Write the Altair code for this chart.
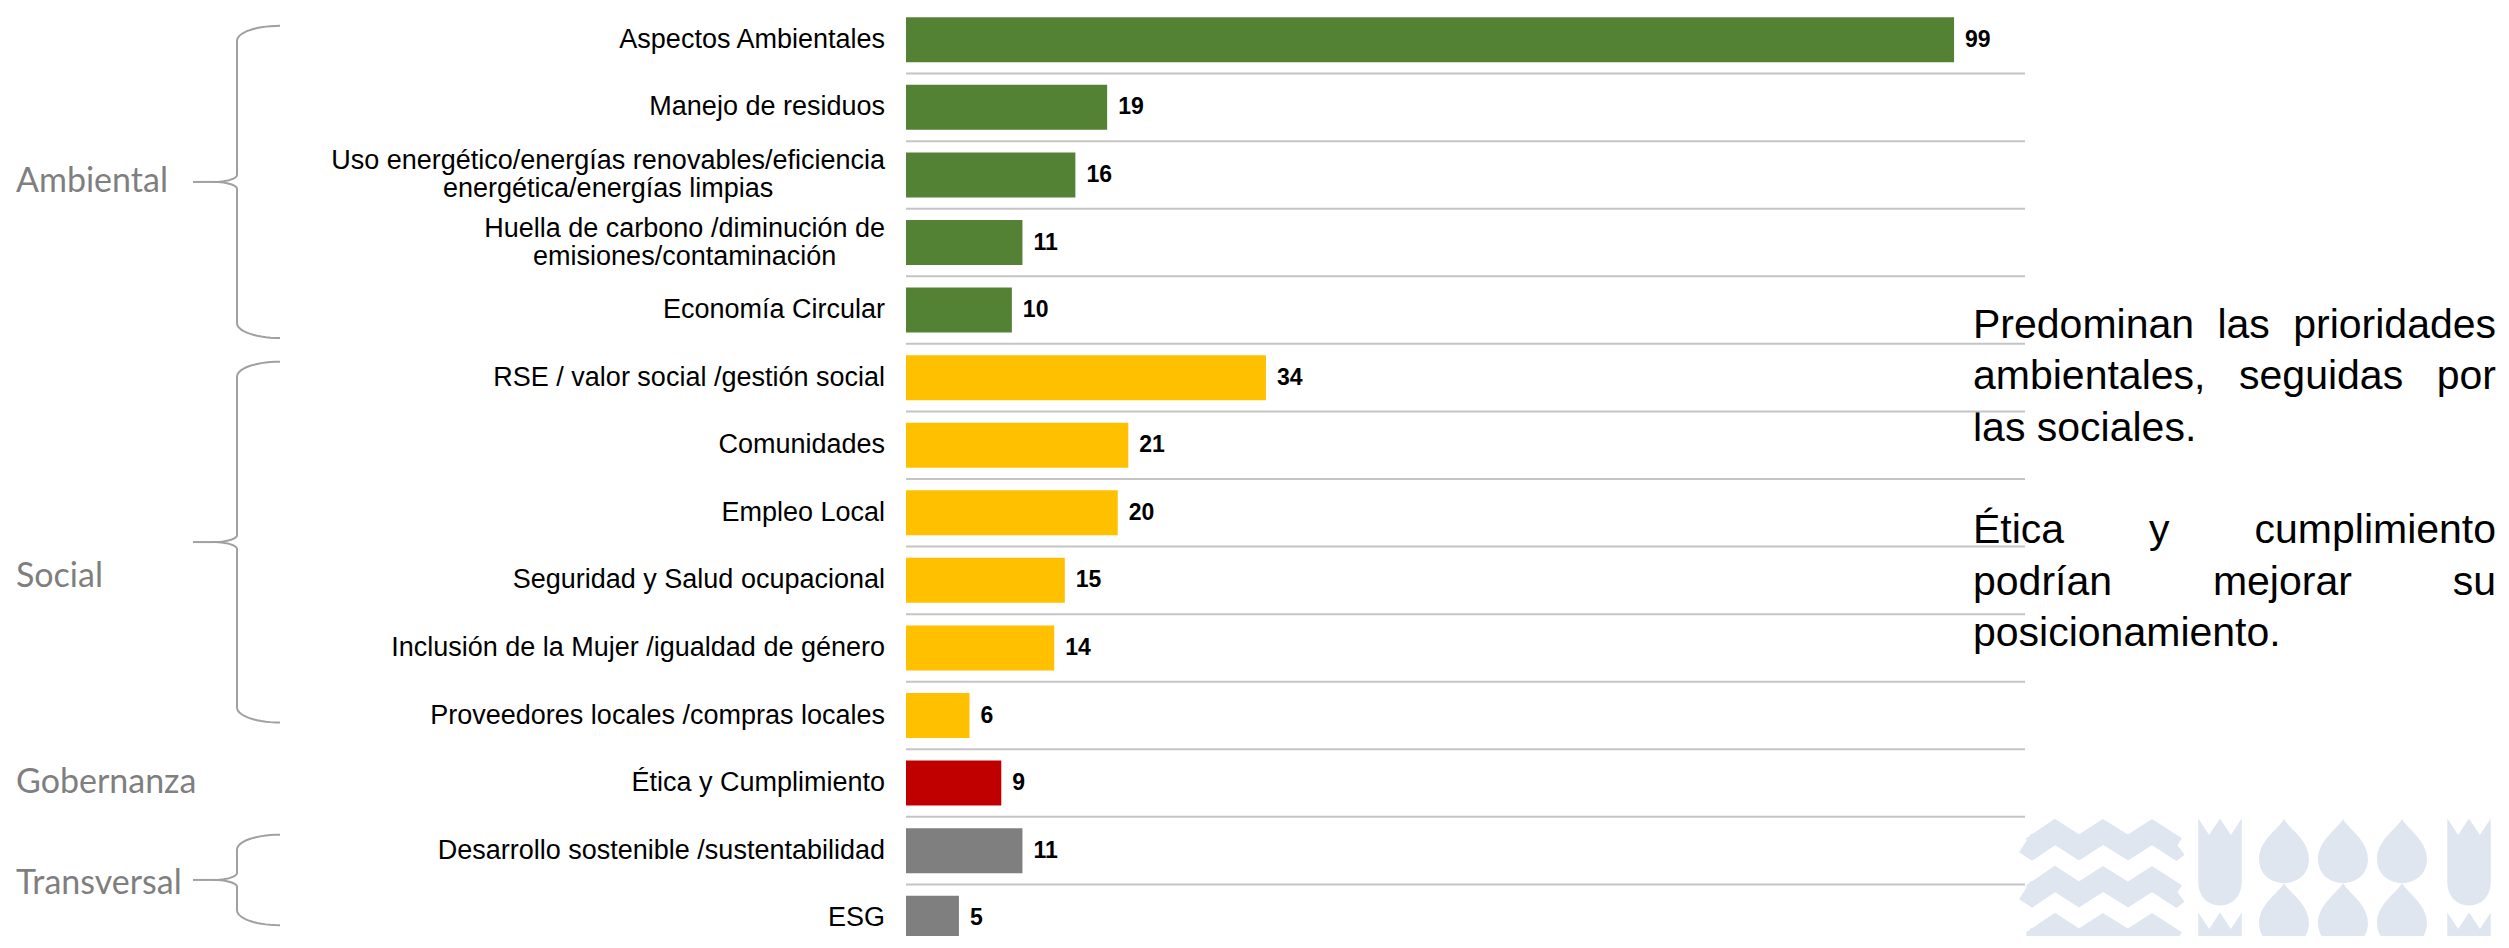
import math
import altair as alt
import pandas as pd

# ---------------- data ----------------
categories = [
    "Aspectos Ambientales",
    "Manejo de residuos",
    "Uso energético/energías renovables/eficiencia|energética/energías limpias",
    "Huella de carbono /diminución de|emisiones/contaminación",
    "Economía Circular",
    "RSE / valor social /gestión social",
    "Comunidades",
    "Empleo Local",
    "Seguridad y Salud ocupacional",
    "Inclusión de la Mujer /igualdad de género",
    "Proveedores locales /compras locales",
    "Ética y Cumplimiento",
    "Desarrollo sostenible /sustentabilidad",
    "ESG",
]
values = [99, 19, 16, 11, 10, 34, 21, 20, 15, 14, 6, 9, 11, 5]
groups = ["Ambiental"] * 5 + ["Social"] * 6 + ["Gobernanza"] + ["Transversal"] * 2
group_names = ["Ambiental", "Social", "Gobernanza", "Transversal"]
group_colors = ["#548235", "#FFC000", "#C00000", "#7F7F7F"]
note_lines = [
    ["Predominan las prioridades", "ambientales, seguidas por", "las sociales."],
    ["Ética y cumplimiento", "podrían mejorar su", "posicionamiento."],
]

# ---------------- layout / style ----------------
X0, PW = 906, 1119          # page x of plot left, plot width
Y0, PH = 6, 946             # page y of plot top, plot height
N = len(categories)
STEP = PH / N
XMAX = 105.7
PAD_IN, PAD_OUT = 0.334, 0.167
FONT = "Liberation Sans"
CAT_SIZE = 27
VAL_SIZE = 23
NOTE_SIZE = 41
GRP_FONT, GRP_SIZE, GRP_COLOR = "Lato", 34, "#7f7f7f"
BRACE_COLOR = "#a0a0a0"
LOGO_COLOR = "#dfe6f0"

# Arial / Liberation Sans advance widths (1/1000 em)
W = {" ": 278, "/": 278, ",": 278, ".": 278}
for ch, w in zip("abcdefghijklmnopqrstuvwxyz",
                 [556, 556, 500, 556, 556, 278, 556, 556, 222, 222, 500, 222, 833,
                  556, 556, 556, 556, 333, 500, 278, 556, 500, 722, 500, 500, 500]):
    W[ch] = w
for ch, w in zip("ABCDEFGHIJKLMNOPQRSTUVWXYZ",
                 [667, 667, 722, 722, 667, 611, 778, 722, 278, 500, 667, 556, 833,
                  722, 778, 667, 778, 722, 667, 611, 722, 667, 944, 667, 667, 611]):
    W[ch] = w
W.update({"á": 556, "é": 556, "í": 278, "ó": 556, "ú": 556, "ñ": 556, "É": 667})


def text_width(s, size):
    return sum(W.get(c, 556) for c in s) * size / 1000.0


# ---------------- table ----------------
line1 = [c.split("|")[0] for c in categories]
line2 = [c.split("|")[1] if "|" in c else "" for c in categories]
keys = [c.replace("|", " ") for c in categories]
df = pd.DataFrame({"key": keys, "line1": line1, "line2": line2,
                   "value": values, "group": groups, "row": list(range(N))})

y_enc = alt.Y("key:N", sort=keys, axis=None,
              scale=alt.Scale(paddingInner=PAD_IN, paddingOuter=PAD_OUT))
x_enc = alt.X("value:Q", axis=None, scale=alt.Scale(domain=[0, XMAX], nice=False))

base = alt.Chart(df)

grid = base.mark_rule(color="#c4c4c4", strokeWidth=2, yOffset=-STEP * PAD_OUT).encode(
    y=alt.Y("key:N", sort=keys, axis=None, bandPosition=0,
            scale=alt.Scale(paddingInner=PAD_IN, paddingOuter=PAD_OUT))
)

bars = base.mark_bar().encode(
    x=x_enc, y=y_enc,
    color=alt.Color("group:N", scale=alt.Scale(domain=group_names, range=group_colors), legend=None),
)

vals = base.mark_text(align="left", baseline="middle", dx=11, font=FONT, fontWeight="bold",
                      fontSize=VAL_SIZE, color="#000000").encode(x=x_enc, y=y_enc, text="value:Q")

cat_single = base.transform_filter("datum.line2 == ''").mark_text(
    align="right", baseline="middle", dx=-21, font=FONT, fontSize=CAT_SIZE, color="#000000"
).encode(x=alt.value(0), y=y_enc, text="line1:N")

cat_first = base.transform_filter("datum.line2 != ''").mark_text(
    align="right", baseline="middle", dx=-21, dy=-14, font=FONT, fontSize=CAT_SIZE, color="#000000"
).encode(x=alt.value(0), y=y_enc, text="line1:N")

cat_second = []
for i in range(N):
    if line2[i]:
        w1 = text_width(line1[i], CAT_SIZE)
        cat_second.append(
            base.transform_filter(alt.datum.row == i).mark_text(
                align="center", baseline="middle", dx=-21 - w1 / 2, dy=14,
                font=FONT, fontSize=CAT_SIZE, color="#000000"
            ).encode(x=alt.value(0), y=y_enc, text="line2:N")
        )

layer_a = alt.layer(grid, bars, vals, cat_single, cat_first, *cat_second)

# ---------------- decorations in page coordinates ----------------
px = alt.Scale(domain=[X0, X0 + PW], nice=False, zero=False)
py = alt.Scale(domain=[Y0, Y0 + PH], nice=False, zero=False, reverse=True)
PX = alt.X("px:Q", scale=px, axis=None)
PY = alt.Y("py:Q", scale=py, axis=None)


def row_center(r):
    return Y0 + (r + 0.5) * STEP


XS, XT, XC, XD = 237, 280, 213, 193   # spine, tips, cusp, dash start
R_TIP, R_CUSP = 15, 7
BRACE_EXT = {"Ambiental": (14, 28, 0), "Social": (16, 7, 35), "Transversal": (16, 7, 4)}


def brace(top, bot, mid, n=14):
    pts = []
    for k in range(n + 1):
        t = k / n * math.pi / 2
        pts.append((XT - (XT - XS) * math.sin(t), top + R_TIP - R_TIP * math.cos(t)))
    for k in range(n + 1):
        t = k / n * math.pi / 2
        pts.append((XC + (XS - XC) * math.cos(t), mid - R_CUSP + R_CUSP * math.sin(t)))
    for k in range(n + 1):
        t = k / n * math.pi / 2
        pts.append((XC + (XS - XC) * math.sin(t), mid + R_CUSP - R_CUSP * math.cos(t)))
    for k in range(n + 1):
        t = k / n * math.pi / 2
        pts.append((XS + (XT - XS) * (1 - math.cos(t)), bot - R_TIP + R_TIP * math.sin(t)))
    return pts


brace_rows, label_rows = [], []
for g in group_names:
    rows = [i for i in range(N) if groups[i] == g]
    r0, r1 = rows[0], rows[-1]
    if r0 == r1:
        label_rows.append({"px": 16, "py": row_center(r0), "label": g})
        continue
    up, down, lab = BRACE_EXT[g]
    top = row_center(r0) - up
    bot = row_center(r1) + down
    mid = (top + bot) / 2
    for j, (x, y) in enumerate(brace(top, bot, mid)):
        brace_rows.append({"px": x, "py": y, "id": g, "i": j})
    brace_rows.append({"px": XD, "py": mid, "id": g + "_dash", "i": 0})
    brace_rows.append({"px": XC + 2, "py": mid, "id": g + "_dash", "i": 1})
    label_rows.append({"px": 16, "py": mid + lab, "label": g})

braces = alt.Chart(pd.DataFrame(brace_rows)).mark_line(
    color=BRACE_COLOR, strokeWidth=2, interpolate="linear"
).encode(x=PX, y=PY, detail="id:N", order="i:Q")

grp_labels = alt.Chart(pd.DataFrame(label_rows)).mark_text(
    align="left", baseline="middle", font=GRP_FONT, fontSize=GRP_SIZE, color=GRP_COLOR
).encode(x=PX, y=PY, text="label:N")

# justified note text
NL, NR = 1973, 2496
BASE0, PITCH = 338, 51.3
word_rows = []
line_no = 0
for p, para in enumerate(note_lines):
    for li, ln in enumerate(para):
        words = ln.split(" ")
        yb = BASE0 + line_no * PITCH
        if li == len(para) - 1 or len(words) == 1:
            word_rows.append({"px": NL, "py": yb, "w": ln})
        else:
            ws = [text_width(w, NOTE_SIZE) for w in words]
            gap = (NR - NL - sum(ws)) / (len(words) - 1)
            x = NL
            for w, wd in zip(words, ws):
                word_rows.append({"px": x, "py": yb, "w": w})
                x += wd + gap
        line_no += 1
    line_no += 1

note = alt.Chart(pd.DataFrame(word_rows)).mark_text(
    align="left", baseline="alphabetic", font=FONT, fontSize=NOTE_SIZE, color="#000000"
).encode(x=PX, y=PY, text="w:N")

# watermark logo (decorative)
zig_rows = []
for z in range(3):
    yc = 840 + z * 47
    pts = [(2025, yc + 3), (2032, yc + 7.5), (2055, yc - 8), (2079, yc + 7.5), (2103, yc - 8),
           (2128, yc + 7.5), (2152, yc - 8), (2176, yc + 7.5), (2178, yc + 6)]
    for j, (x, y) in enumerate(pts):
        zig_rows.append({"px": x, "py": y, "id": z, "i": j})
zig = alt.Chart(pd.DataFrame(zig_rows)).mark_line(
    color=LOGO_COLOR, strokeWidth=22, strokeCap="butt", strokeJoin="miter"
).encode(x=PX, y=PY, detail="id:N", order="i:Q")

DROP = ("M0,-1 C0.15,-0.7 0.78,-0.35 0.78,0.25 C0.78,0.72 0.42,1 0,1 "
        "C-0.42,1 -0.78,0.72 -0.78,0.25 C-0.78,-0.35 -0.15,-0.7 0,-1 Z")
TULIP = ("M-0.5,-1 L-0.25,-0.62 L0,-1 L0.25,-0.62 L0.5,-1 L0.5,0.45 "
         "C0.5,0.8 0.28,1 0,1 C-0.28,1 -0.5,0.8 -0.5,0.45 Z")

drop_rows = []
for xc in (2284, 2343, 2402):
    for yc in (851, 915):
        drop_rows.append({"px": xc, "py": yc})
drops = alt.Chart(pd.DataFrame(drop_rows)).mark_point(
    shape=DROP, filled=True, size=64 * 64, color=LOGO_COLOR, opacity=1, strokeWidth=0
).encode(x=PX, y=PY)

tulip_rows = []
for xc in (2220, 2469):
    for yc in (862, 956):
        tulip_rows.append({"px": xc, "py": yc})
tulips = alt.Chart(pd.DataFrame(tulip_rows)).mark_point(
    shape=TULIP, filled=True, size=87 * 87, color=LOGO_COLOR, opacity=1, strokeWidth=0
).encode(x=PX, y=PY)

layer_b = alt.layer(zig, drops, tulips, braces, grp_labels, note)

chart = alt.layer(layer_b, layer_a).resolve_scale(x="independent", y="independent").properties(
    width=PW, height=PH,
    autosize=alt.AutoSizeParams(type="none"),
    padding={"left": X0 - 8, "top": Y0 - 8, "right": 2509 - 16 - (X0 - 8) - PW, "bottom": -16},
    background="white",
).configure_view(stroke=None)

chart.save("out.html", embed_options={"renderer": "svg", "actions": False})
